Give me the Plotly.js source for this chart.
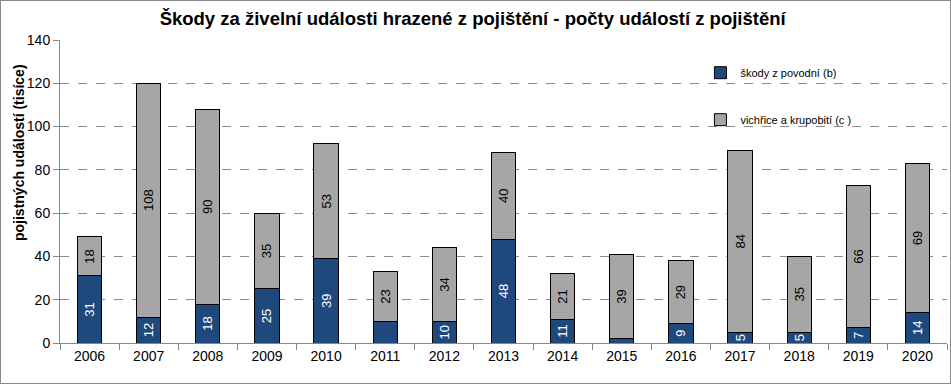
<!DOCTYPE html>
<html>
<head>
<meta charset="utf-8">
<script src="https://cdn.plot.ly/plotly-3.0.1.min.js"></script>
<style>
html,body{margin:0;padding:0;background:#fff;}
#chart{width:951px;height:384px;}
#frame{position:absolute;left:0;top:0;width:949px;height:382px;border:1px solid #888;pointer-events:none;}
</style>
</head>
<body>
<div id="chart"></div>
<div id="frame"></div>
<script>
const years = ['2006','2007','2008','2009','2010','2011','2012','2013','2014','2015','2016','2017','2018','2019','2020'];
const povodne = [31, 12, 18, 25, 39, 10, 10, 48, 11, 2, 9, 5, 5, 7, 14];
const vichrice = [18, 108, 90, 35, 53, 23, 34, 40, 21, 39, 29, 84, 35, 66, 69];
const povodneLabels = ['31','12','18','25','39','','10','48','11','','9','5','5','7','14'];
const vichriceLabels = vichrice.map(String);
const seriesNames = ['škody z povodní (b)', 'vichřice a krupobití (c )'];
const titleText = 'Škody za živelní události hrazené z pojištění - počty událostí z pojištění';
const yTitleText = 'pojistných událostí (tisíce)';

const FONT = 'Arial, "Liberation Sans", sans-serif';

const traces = [
  {
    type: 'bar', x: years, y: povodne, name: seriesNames[0], legendgroup: 'a',
    text: povodneLabels, texttemplate: '%{text}', textposition: 'inside', textangle: -90,
    insidetextanchor: 'middle', constraintext: 'none',
    insidetextfont: {color: '#ffffff', size: 13, family: FONT},
    marker: {color: '#1F497D', line: {color: '#000000', width: 1}},
    hoverinfo: 'x+y+name'
  },
  {
    type: 'bar', x: years, y: vichrice, name: seriesNames[1], legendgroup: 'b',
    text: vichriceLabels, texttemplate: '%{text}', textposition: 'inside', textangle: -90,
    insidetextanchor: 'middle', constraintext: 'none',
    insidetextfont: {color: '#000000', size: 13, family: FONT},
    marker: {color: '#A6A6A6', line: {color: '#000000', width: 1}},
    hoverinfo: 'x+y+name'
  }
];

const layout = {
  width: 951, height: 384,
  margin: {l: 60, r: 4, t: 40, b: 41},
  paper_bgcolor: '#ffffff', plot_bgcolor: '#ffffff',
  font: {family: FONT, color: '#000000'},
  barmode: 'stack',
  bargap: 0.59,
  title: {text: '<b>' + titleText + '</b>', font: {size: 18.5, family: FONT, color: '#000'}, x: 0.497, xanchor: 'center', y: 0.953, yanchor: 'middle'},
  xaxis: {
    type: 'category', tickson: 'boundaries', ticks: 'outside', ticklen: 6, tickcolor: '#888',
    showline: true, linecolor: '#888', linewidth: 1, showgrid: false,
    tickfont: {size: 14, family: FONT, color: '#000'}, fixedrange: true
  },
  yaxis: {
    range: [0, 140], dtick: 20, ticks: 'outside', ticklen: 6, tickcolor: '#888',
    showline: true, linecolor: '#888', linewidth: 1,
    showgrid: true, gridcolor: '#8c8c8c', griddash: 'dash', gridwidth: 1,
    zeroline: false,
    tickfont: {size: 14, family: FONT, color: '#000'}, fixedrange: true
  },
  annotations: [{
    text: '<b>' + yTitleText + '</b>', textangle: -90, xref: 'paper', yref: 'paper',
    x: -0.047, y: 0.628, xanchor: 'center', yanchor: 'middle', showarrow: false,
    font: {size: 14, family: FONT, color: '#000'}
  }],
  legend: {
    x: 0.722, y: 0.94, xanchor: 'left', yanchor: 'top',
    traceorder: 'grouped', tracegroupgap: 28,
    font: {size: 11, family: FONT, color: '#000'},
    bgcolor: 'rgba(0,0,0,0)', itemwidth: 30
  },
  showlegend: true
};

Plotly.newPlot('chart', traces, layout, {displayModeBar: false, staticPlot: true});
</script>
</body>
</html>
